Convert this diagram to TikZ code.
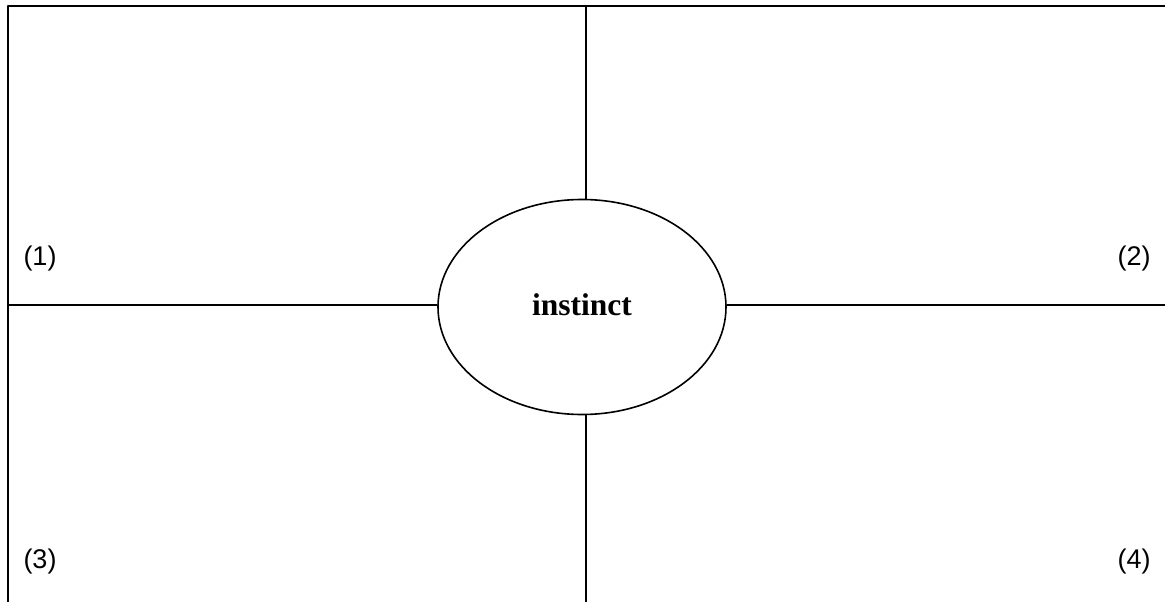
\documentclass[tikz,border=0pt]{standalone}
\usepackage{fontspec}
\setmainfont{Liberation Serif}
\newfontfamily\labelfont{Liberation Sans}
\usetikzlibrary{shapes.geometric}
\tikzset{
	frame/.style={line width=1.4pt},
	core/.style={ellipse,draw,line width=1.6pt,minimum width=288pt,minimum height=215pt,inner sep=0pt,font=\fontsize{31.5}{31.5}\selectfont\bfseries},
	corner/.style={font=\labelfont\fontsize{27}{27}\selectfont,inner sep=0pt}
}
\begin{document}
\begin{tikzpicture}[x=1pt,y=-1pt, line join=round, line cap=round]
			\useasboundingbox (0,0) rectangle (1165,602);
			% khung
			\coordinate (tl) at (8,6);
			\coordinate (tr) at (1165,6);
			\coordinate (bl) at (8,602);
			\coordinate (tm) at (586,6);
			\coordinate (bm) at (586,602);
			\coordinate (ml) at (8,305);
			\coordinate (mr) at (1165,305);
			\node[core] (inst) at (582,307) {\raisebox{5pt}{instinct}};
			\draw[frame] (tr) -- (tl) -- (bl);
			\draw[frame] (ml) -- (inst.west |- ml);
			\draw[frame] (inst.east |- mr) -- (mr);
			\draw[frame] (tm) -- (tm |- inst.north);
			\draw[frame] (inst.south -| bm) -- (bm);
			% nhan
			\node[corner] (n1) at (40,259) {(1)};
			\node[corner] (n2) at (1134,259) {(2)};
			\node[corner] (n3) at (40,562) {(3)};
			\node[corner] (n4) at (1134,562) {(4)};
		\end{tikzpicture}
\end{document}
